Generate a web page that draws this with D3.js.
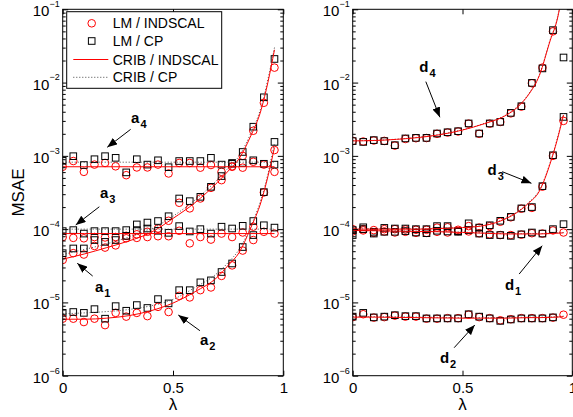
<!DOCTYPE html>
<html>
<head>
<meta charset="utf-8">
<script src="https://cdn.jsdelivr.net/npm/d3@7"></script>
<style>
  body { margin: 0; background: #fff; }
  svg { display: block; }
</style>
</head>
<body>
<div id="chart-area"></div>
<script>
// lambda values of the markers and of the CRIB curves
var lamPts = [0, 0.048, 0.096, 0.144, 0.192, 0.24, 0.288, 0.336, 0.384, 0.432, 0.48,
              0.528, 0.576, 0.624, 0.672, 0.72, 0.768, 0.816, 0.864, 0.912, 0.96];
var lamLine = [0, 0.1, 0.2, 0.3, 0.4, 0.5, 0.6, 0.7, 0.75, 0.8, 0.85, 0.9, 0.93, 0.96];

// left panel (a)
var a1Ind = [3.8e-5, 4.7e-5, 4.5e-5, 5.9e-5, 5.6e-5, 6.0e-5, 7.5e-5, 8.5e-5, 9.2e-5, 1.02e-4, 1.30e-4,
             2.29e-4, 1.92e-4, 2.62e-4, 3.66e-4, 4.66e-4, 7.1e-4, 1.0e-3, 2.2e-3, 5.3e-3, 1.6e-2];
var a1Cp  = [4.7e-5, 5.45e-5, 5.45e-5, 7.1e-5, 6.7e-5, 7.1e-5, 8.1e-5, 1.16e-4, 1.23e-4, 1.29e-4, 1.50e-4,
             2.62e-4, 2.41e-4, 2.76e-4, 3.78e-4, 5.3e-4, 7.8e-4, 1.13e-3, 2.5e-3, 6.3e-3, 2.1e-2];
var a2Ind = [6.0e-6, 6.0e-6, 5.4e-6, 6.0e-6, 4.9e-6, 7.2e-6, 6.4e-6, 7.2e-6, 6.5e-6, 8.7e-6, 7.4e-6,
             1.23e-5, 1.17e-5, 1.47e-5, 1.6e-5, 2.3e-5, 3.2e-5, 5.1e-5, 7.1e-5, 3.17e-4, 1.2e-3];
var a2Cp  = [7.2e-6, 7.4e-6, 7.2e-6, 8.1e-6, 6.0e-6, 8.9e-6, 7.7e-6, 9.2e-6, 8.4e-6, 1.11e-5, 9.7e-6,
             1.47e-5, 1.47e-5, 1.88e-5, 2.0e-5, 2.6e-5, 3.4e-5, 5.7e-5, 8.3e-5, 3.2e-4, 1.55e-3];
var a3Ind = [7.8e-5, 7.6e-5, 7.5e-5, 7.8e-5, 7.7e-5, 7.8e-5, 8.1e-5, 7.6e-5, 7.8e-5, 8.0e-5, 8.0e-5,
             9.5e-5, 6.4e-5, 7.8e-5, 7.2e-5, 8.7e-5, 7.8e-5, 9.0e-5, 1.08e-4, 9.2e-5, 8.7e-5];
var a3Cp  = [9.4e-5, 9.7e-5, 8.7e-5, 9.4e-5, 9.4e-5, 9.4e-5, 9.7e-5, 9.7e-5, 1.02e-4, 9.5e-5, 8.9e-5,
             1.1e-4, 9.3e-5, 1.0e-4, 8.7e-5, 1.08e-4, 1.02e-4, 1.11e-4, 1.29e-4, 1.13e-4, 1.05e-4];
var a4Ind = [7.1e-4, 8.5e-4, 6.05e-4, 7.6e-4, 8.0e-4, 7.2e-4, 5.45e-4, 6.95e-4, 6.95e-4, 7.6e-4, 5.75e-4,
             8.0e-4, 8.0e-4, 6.9e-4, 7.5e-4, 6.05e-4, 7.2e-4, 6.9e-4, 8.3e-4, 7.6e-4, 6.05e-4];
var a4Cp  = [8.55e-4, 9.9e-4, 7.5e-4, 9.0e-4, 9.9e-4, 9.4e-4, 5.95e-4, 9.0e-4, 7.6e-4, 8.7e-4, 7.0e-4,
             8.5e-4, 8.5e-4, 8.5e-4, 9.4e-4, 7.6e-4, 8.0e-4, 8.0e-4, 8.7e-4, 7.8e-4, 7.6e-4];

var a1IndLine = [3.9e-5, 4.6e-5, 5.6e-5, 6.9e-5, 9.0e-5, 1.4e-4, 2.3e-4, 4.3e-4, 6.2e-4, 9.2e-4, 1.8e-3, 4.3e-3, 1.0e-2, 2.8e-2];
var a1CpLine  = [4.5e-5, 5.3e-5, 6.3e-5, 7.8e-5, 1.0e-4, 1.5e-4, 2.5e-4, 4.7e-4, 6.8e-4, 1.0e-3, 1.95e-3, 4.7e-3, 1.1e-2, 3.0e-2];
var a2IndLine = [5.9e-6, 5.9e-6, 6.1e-6, 6.6e-6, 7.7e-6, 9.8e-6, 1.4e-5, 2.2e-5, 3.2e-5, 4.8e-5, 1.0e-4, 2.4e-4, 5.2e-4, 1.3e-3];
var a2CpLine  = [7.0e-6, 7.2e-6, 7.5e-6, 8.0e-6, 9.0e-6, 1.1e-5, 1.6e-5, 2.5e-5, 3.5e-5, 5.3e-5, 1.05e-4, 2.6e-4, 5.6e-4, 1.5e-3];
var a3IndLine = [8.7e-5, 8.7e-5, 8.7e-5, 8.7e-5, 8.7e-5, 8.7e-5, 8.7e-5, 8.7e-5, 8.7e-5, 8.7e-5, 8.7e-5, 8.7e-5, 8.7e-5, 8.7e-5];
var a3CpLine  = [1.0e-4, 1.0e-4, 1.0e-4, 1.0e-4, 1.0e-4, 1.0e-4, 1.0e-4, 1.0e-4, 1.0e-4, 1.0e-4, 1.0e-4, 1.0e-4, 1.0e-4, 1.0e-4];
var a4IndLine = [7.1e-4, 7.1e-4, 7.1e-4, 7.1e-4, 7.1e-4, 7.1e-4, 7.1e-4, 7.1e-4, 7.1e-4, 7.1e-4, 7.1e-4, 7.1e-4, 7.1e-4, 7.1e-4];
var a4CpLine  = [8.2e-4, 8.2e-4, 8.2e-4, 8.2e-4, 8.2e-4, 8.2e-4, 8.2e-4, 8.2e-4, 8.2e-4, 8.2e-4, 8.2e-4, 8.2e-4, 8.2e-4, 8.2e-4];

// right panel (d)
var d1Ind = [9.3e-5, 9.6e-5, 8.9e-5, 9.3e-5, 9.0e-5, 9.2e-5, 8.9e-5, 8.9e-5, 9.2e-5, 9.0e-5, 9.4e-5,
             9.3e-5, 8.8e-5, 8.5e-5, 8.3e-5, 8.3e-5, 8.4e-5, 8.8e-5, 8.7e-5, 9.6e-5, 9.0e-5];
var d1Cp  = [8.3e-5, 1.0e-4, 8.7e-5, 9.2e-5, 9.2e-5, 9.4e-5, 9.0e-5, 8.8e-5, 9.5e-5, 9.3e-5, 9.2e-5,
             9.7e-5, 8.7e-5, 8.3e-5, 8.3e-5, 8.1e-5, 8.5e-5, 9.0e-5, 8.7e-5, 1.0e-4, 1.17e-4];
var d2Ind = [6.3e-6, 6.9e-6, 6.2e-6, 6.3e-6, 6.6e-6, 6.4e-6, 6.4e-6, 6.0e-6, 6.0e-6, 6.1e-6, 6.1e-6,
             6.8e-6, 6.3e-6, 6.1e-6, 5.7e-6, 5.9e-6, 6.1e-6, 6.1e-6, 6.1e-6, 6.2e-6, 6.8e-6];
var d2Cp  = [6.4e-6, 7.2e-6, 6.25e-6, 6.4e-6, 6.7e-6, 6.5e-6, 6.5e-6, 6.05e-6, 6.05e-6, 6.05e-6, 6.05e-6,
             6.9e-6, 6.4e-6, 6.05e-6, 5.6e-6, 5.85e-6, 6.05e-6, 6.05e-6, 6.05e-6, 6.25e-6, null];
var d3Ind = [1.0e-4, 1.0e-4, 9.7e-5, 1.0e-4, 1.0e-4, 9.9e-5, 9.8e-5, 9.8e-5, 1.05e-4, 1.06e-4, 9.8e-5,
             1.1e-4, 1.05e-4, 1.1e-4, 1.26e-4, 1.45e-4, 1.9e-4, 1.95e-4, 3.8e-4, 1.0e-3, 3.0e-3];
var d3Cp  = [9.7e-5, 1.06e-4, 9.2e-5, 1.04e-4, 1.02e-4, 1.02e-4, 1.0e-4, 1.0e-4, 1.1e-4, 1.1e-4, 9.4e-5,
             1.2e-4, 1.05e-4, 1.13e-4, 1.3e-4, 1.47e-4, 1.92e-4, 2.0e-4, 3.86e-4, 1.02e-3, 3.4e-3];
var d4Ind = [1.6e-3, 1.57e-3, 1.62e-3, 1.6e-3, 1.38e-3, 1.7e-3, 1.74e-3, 1.75e-3, 2.0e-3, 2.08e-3, 2.15e-3,
             2.75e-3, 2.0e-3, 2.75e-3, 2.9e-3, 3.8e-3, 4.7e-3, 9.8e-3, 1.6e-2, 5.0e-2, null];
var d4Cp  = [1.59e-3, 1.55e-3, 1.64e-3, 1.59e-3, 1.40e-3, 1.73e-3, 1.76e-3, 1.76e-3, 2.02e-3, 2.1e-3, 2.17e-3,
             2.77e-3, 2.02e-3, 2.77e-3, 2.91e-3, 3.86e-3, 4.76e-3, 9.9e-3, 1.56e-2, 5.2e-2, 2.2e-2];

var d1IndLine = [9.6e-5, 9.5e-5, 9.4e-5, 9.3e-5, 9.2e-5, 9.0e-5, 8.8e-5, 8.6e-5, 8.6e-5, 8.6e-5, 8.6e-5, 8.7e-5, 8.8e-5, 8.9e-5];
var d1CpLine  = [9.7e-5, 9.6e-5, 9.5e-5, 9.4e-5, 9.3e-5, 9.1e-5, 8.9e-5, 8.7e-5, 8.7e-5, 8.7e-5, 8.7e-5, 8.8e-5, 8.9e-5, 9.0e-5];
var d2IndLine = [6.3e-6, 6.3e-6, 6.25e-6, 6.2e-6, 6.15e-6, 6.1e-6, 6.1e-6, 6.1e-6, 6.15e-6, 6.2e-6, 6.2e-6, 6.25e-6, 6.3e-6, 6.4e-6];
var d2CpLine  = [6.4e-6, 6.4e-6, 6.35e-6, 6.3e-6, 6.25e-6, 6.2e-6, 6.2e-6, 6.2e-6, 6.25e-6, 6.3e-6, 6.3e-6, 6.35e-6, 6.4e-6, 6.5e-6];
var d3IndLine = [1.0e-4, 1.0e-4, 1.0e-4, 1.0e-4, 1.02e-4, 1.05e-4, 1.12e-4, 1.4e-4, 1.7e-4, 2.25e-4, 3.3e-4, 8.0e-4, 1.6e-3, 3.6e-3];
var d3CpLine  = [1.01e-4, 1.01e-4, 1.01e-4, 1.01e-4, 1.03e-4, 1.06e-4, 1.13e-4, 1.42e-4, 1.72e-4, 2.3e-4, 3.4e-4, 8.2e-4, 1.65e-3, 3.8e-3];
var d4IndLine = [1.6e-3, 1.62e-3, 1.68e-3, 1.78e-3, 1.95e-3, 2.25e-3, 2.75e-3, 3.6e-3, 4.6e-3, 6.8e-3, 1.25e-2, 3.8e-2, 7.0e-2, 2.0e-1];
var d4CpLine  = [1.61e-3, 1.63e-3, 1.69e-3, 1.8e-3, 1.97e-3, 2.27e-3, 2.78e-3, 3.65e-3, 4.7e-3, 6.9e-3, 1.27e-2, 3.9e-2, 7.2e-2, 2.1e-1];

// legend and tick labels
var legendLabels = ["LM / INDSCAL", "LM / CP", "CRIB / INDSCAL", "CRIB / CP"];
var decades = [-6, -5, -4, -3, -2, -1];
var xTicks = [0, 0.5, 1];

// annotations: label, subscript, text anchor [lambda, value], arrow tail, arrow head
var leftNotes = [
  ["a", "4", [0.310, 2.81e-3], [0.308, 2.30e-3], [0.202, 1.31e-3]],
  ["a", "3", [0.169, 2.64e-4], [0.166, 2.02e-4], [0.059, 1.14e-4]],
  ["a", "1", [0.146, 1.40e-5], [0.136, 2.29e-5], [0.066, 3.42e-5]],
  ["a", "2", [0.622, 2.62e-6], [0.622, 4.11e-6], [0.524, 6.73e-6]]
];
var rightNotes = [
  ["d", "4", [0.303, 1.41e-2], [0.333, 1.03e-2], [0.397, 3.36e-3]],
  ["d", "3", [0.614, 5.48e-4], [0.681, 6.08e-4], [0.814, 4.22e-4]],
  ["d", "1", [0.693, 1.48e-5], [0.758, 2.44e-5], [0.863, 5.94e-5]],
  ["d", "2", [0.397, 1.48e-6], [0.462, 2.41e-6], [0.556, 4.92e-6]]
];

var width = 573, height = 417;
var top0 = 9.3, bottom0 = 375.7;
var font = "'Liberation Sans', Arial, Helvetica, sans-serif";

var svg = d3.select("#chart-area")
  .append("svg")
    .attr("width", width)
    .attr("height", height)
    .style("font-family", font);

var defs = svg.append("defs");
defs.append("marker")
    .attr("id", "arrow")
    .attr("viewBox", "0 0 10 8")
    .attr("refX", 10)
    .attr("refY", 4)
    .attr("markerWidth", 10)
    .attr("markerHeight", 8)
    .attr("markerUnits", "userSpaceOnUse")
    .attr("orient", "auto")
  .append("path")
    .attr("d", "M0,0L10,4L0,8Z")
    .attr("fill", "#000");

var yScale = d3.scaleLog()
  .domain([1e-6, 1e-1])
  .range([bottom0, top0]);

// minor ticks 2..9 in every decade
var minorTicks = [];
decades.forEach(function(e) {
  if (e === -1) return;
  [2, 3, 4, 5, 6, 7, 8, 9].forEach(function(m) { minorTicks.push(m * Math.pow(10, e)); });
});
var majorTicks = decades.map(function(e) { return Math.pow(10, e); });

function drawPanel(id, x0, x1, series, notes) {
  var xScale = d3.scaleLinear().domain([0, 1]).range([x0, x1]);
  var g = svg.append("g");

  defs.append("clipPath").attr("id", "clip" + id)
    .append("rect")
      .attr("x", x0).attr("y", top0)
      .attr("width", x1 - x0).attr("height", bottom0 - top0);

  var plot = g.append("g").attr("clip-path", "url(#clip" + id + ")");

  var line = d3.line()
    .curve(d3.curveMonotoneX)
    .x(function(d) { return xScale(d[0]); })
    .y(function(d) { return yScale(d[1]); });

  // markers: circles then squares
  series.forEach(function(s) {
    var pts = lamPts.map(function(l, i) { return [l, s.ind[i]]; })
      .filter(function(d) { return d[1] != null; });
    plot.selectAll(null).data(pts).enter().append("circle")
      .attr("cx", function(d) { return xScale(d[0]); })
      .attr("cy", function(d) { return yScale(d[1]); })
      .attr("r", 3.8)
      .attr("fill", "none")
      .attr("stroke", "#ff0000")
      .attr("stroke-width", 1);
  });
  series.forEach(function(s) {
    var pts = lamPts.map(function(l, i) { return [l, s.cp[i]]; })
      .filter(function(d) { return d[1] != null; });
    plot.selectAll(null).data(pts).enter().append("rect")
      .attr("x", function(d) { return xScale(d[0]) - 3.3; })
      .attr("y", function(d) { return yScale(d[1]) - 3.3; })
      .attr("width", 6.6)
      .attr("height", 6.6)
      .attr("fill", "none")
      .attr("stroke", "#000")
      .attr("stroke-width", 1);
  });
  // CRIB curves
  series.forEach(function(s) {
    plot.append("path")
      .datum(lamLine.map(function(l, i) { return [l, s.cpLine[i]]; }))
      .attr("d", line)
      .attr("fill", "none")
      .attr("stroke", "#444")
      .attr("stroke-width", 1)
      .attr("stroke-dasharray", "1,2");
    plot.append("path")
      .datum(lamLine.map(function(l, i) { return [l, s.indLine[i]]; }))
      .attr("d", line)
      .attr("fill", "none")
      .attr("stroke", "#ff0000")
      .attr("stroke-width", 1);
  });

  // Y Axis ticks (inward, both sides)
  var yLeftMajor = d3.axisLeft(yScale).tickValues(majorTicks).tickSize(-5.5).tickSizeOuter(0).tickFormat("");
  var yLeftMinor = d3.axisLeft(yScale).tickValues(minorTicks).tickSize(-3).tickSizeOuter(0).tickFormat("");
  var yRightMajor = d3.axisRight(yScale).tickValues(majorTicks).tickSize(-5.5).tickSizeOuter(0).tickFormat("");
  var yRightMinor = d3.axisRight(yScale).tickValues(minorTicks).tickSize(-3).tickSizeOuter(0).tickFormat("");
  [[yLeftMajor, x0], [yLeftMinor, x0], [yRightMajor, x1], [yRightMinor, x1]].forEach(function(a) {
    g.append("g")
      .attr("transform", "translate(" + a[1] + ",0)")
      .call(a[0])
      .call(function(s) { s.select(".domain").remove(); });
  });

  // X Axis
  var xAxisCall = d3.axisBottom(xScale).tickValues(xTicks).tickSize(-5).tickSizeOuter(0)
    .tickPadding(7).tickFormat(d3.format("~g"));
  var xb = g.append("g")
    .attr("transform", "translate(0," + bottom0 + ")")
    .call(xAxisCall);
  xb.select(".domain").remove();
  xb.selectAll("text")
    .attr("font-family", font)
    .attr("font-size", "15px")
    .attr("fill", "#000");
  g.append("g")
    .attr("transform", "translate(0," + top0 + ")")
    .call(d3.axisTop(xScale).tickValues(xTicks).tickSize(-5).tickSizeOuter(0).tickFormat(""))
    .call(function(s) { s.select(".domain").remove(); });

  // frame
  g.append("rect")
    .attr("x", x0).attr("y", top0)
    .attr("width", x1 - x0).attr("height", bottom0 - top0)
    .attr("fill", "none")
    .attr("stroke", "#000")
    .attr("stroke-width", 1);

  // y tick labels 10^e
  decades.forEach(function(e) {
    var t = g.append("text")
      .attr("x", x0 - 3)
      .attr("y", yScale(Math.pow(10, e)) + 7)
      .attr("text-anchor", "end")
      .attr("fill", "#000");
    t.append("tspan").attr("font-size", "15px").text("10");
    t.append("tspan").attr("font-size", "9px").attr("dy", -9.2).text("\u2212" + (-e));
  });

  // lambda label
  g.append("text")
    .attr("x", (x0 + x1) / 2)
    .attr("y", 410)
    .attr("text-anchor", "middle")
    .attr("font-size", "17px")
    .text("\u03bb");

  // annotations
  notes.forEach(function(n) {
    g.append("line")
      .attr("x1", xScale(n[3][0])).attr("y1", yScale(n[3][1]))
      .attr("x2", xScale(n[4][0])).attr("y2", yScale(n[4][1]))
      .attr("stroke", "#000")
      .attr("stroke-width", 1)
      .attr("marker-end", "url(#arrow)");
    var t = g.append("text")
      .attr("x", xScale(n[2][0]))
      .attr("y", yScale(n[2][1]))
      .attr("font-weight", "bold")
      .attr("fill", "#000");
    t.append("tspan").attr("font-size", "15px").text(n[0]);
    t.append("tspan").attr("font-size", "11px").attr("dx", 1).attr("dy", 5).text(n[1]);
  });

  return xScale;
}

var leftSeries = [
  { ind: a1Ind, cp: a1Cp, indLine: a1IndLine, cpLine: a1CpLine },
  { ind: a2Ind, cp: a2Cp, indLine: a2IndLine, cpLine: a2CpLine },
  { ind: a3Ind, cp: a3Cp, indLine: a3IndLine, cpLine: a3CpLine },
  { ind: a4Ind, cp: a4Cp, indLine: a4IndLine, cpLine: a4CpLine }
];
var rightSeries = [
  { ind: d1Ind, cp: d1Cp, indLine: d1IndLine, cpLine: d1CpLine },
  { ind: d2Ind, cp: d2Cp, indLine: d2IndLine, cpLine: d2CpLine },
  { ind: d3Ind, cp: d3Cp, indLine: d3IndLine, cpLine: d3CpLine },
  { ind: d4Ind, cp: d4Cp, indLine: d4IndLine, cpLine: d4CpLine }
];

drawPanel("L", 62.7, 283.3, leftSeries, leftNotes);
drawPanel("R", 352.7, 572.3, rightSeries, rightNotes);

// y label
svg.append("text")
  .attr("transform", "translate(24,192.5) rotate(-90)")
  .attr("text-anchor", "middle")
  .attr("font-size", "17px")
  .text("MSAE");

// legend
var legend = svg.append("g");
legend.append("rect")
  .attr("x", 66.7).attr("y", 11.7)
  .attr("width", 155).attr("height", 76.6)
  .attr("fill", "#fff")
  .attr("stroke", "#000")
  .attr("stroke-width", 1);
var rowY = [23.3, 41, 59.5, 77.3];
legendLabels.forEach(function(lab, i) {
  var yy = rowY[i];
  if (i === 0) {
    legend.append("circle").attr("cx", 91.7).attr("cy", yy).attr("r", 3.8)
      .attr("fill", "none").attr("stroke", "#ff0000");
  } else if (i === 1) {
    legend.append("rect").attr("x", 91.7 - 3.3).attr("y", yy - 3.3).attr("width", 6.6).attr("height", 6.6)
      .attr("fill", "none").attr("stroke", "#000");
  } else {
    legend.append("line").attr("x1", 73.3).attr("x2", 108.3).attr("y1", yy).attr("y2", yy)
      .attr("stroke", i === 2 ? "#ff0000" : "#444")
      .attr("stroke-dasharray", i === 2 ? null : "1,2");
  }
  legend.append("text")
    .attr("x", 112.7)
    .attr("y", yy + 5)
    .attr("font-size", "14px")
    .text(lab);
});
</script>
</body>
</html>
